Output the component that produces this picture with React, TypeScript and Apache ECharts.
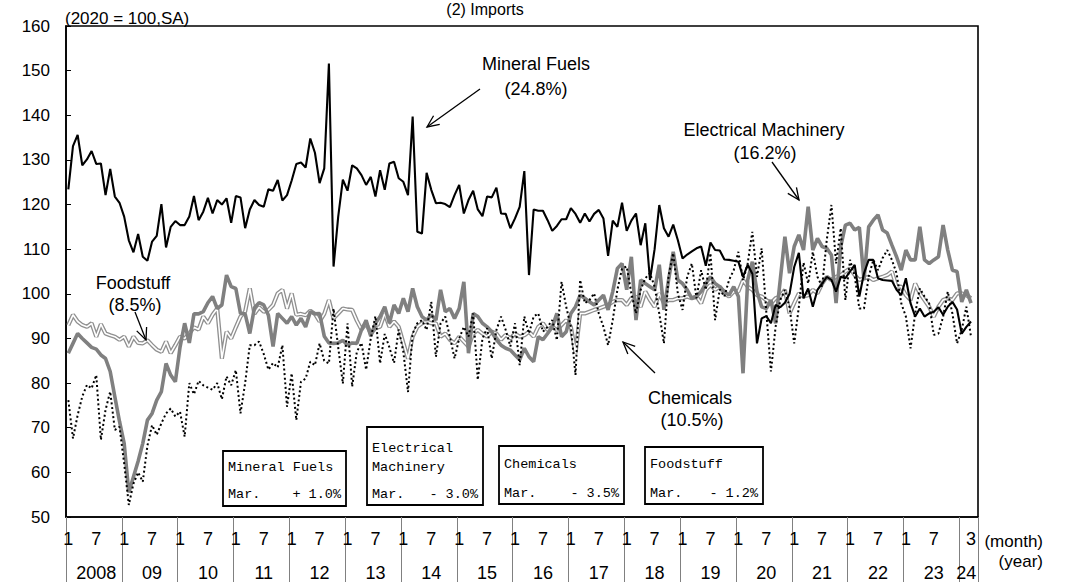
import React, { useEffect, useRef } from "react";
import * as echarts from "echarts";

const startYear = 2008;
const categoryCount = 196; // Jan 2008 .. Apr 2024 (last band empty)
const yearLabels = ["2008", "09", "10", "11", "12", "13", "14", "15", "16", "17", "18", "19", "20", "21", "22", "23", "24"];
const yTicks = { min: 50, max: 160, interval: 10 };

const mineralFuels = [
  123.4, 133.1, 135.6, 128.8, 130.1, 132.0, 129.1, 129.2, 122.1, 128.0, 121.8, 120.4,
  117.3, 112.0, 109.3, 113.4, 108.3, 107.4, 111.7, 113.0, 120.1, 110.4, 115.0, 116.3,
  115.4, 115.4, 117.3, 121.9, 116.5, 118.4, 121.5, 118.0, 121.0, 120.0, 121.4, 115.9,
  121.9, 121.6, 114.7, 118.9, 121.0, 119.9, 119.5, 123.4, 123.1, 125.5, 120.9, 122.1,
  125.4, 129.1, 129.4, 128.3, 134.8, 131.6, 124.8, 128.1, 151.6, 106.1, 117.3, 125.6,
  123.1, 128.8, 128.1, 126.6, 124.4, 126.2, 121.8, 127.7, 123.3, 129.2, 129.6, 125.9,
  125.1, 122.1, 139.7, 113.9, 113.5, 127.1, 123.3, 120.3, 120.4, 120.1, 119.4, 122.1,
  124.4, 118.0, 121.0, 123.1, 118.9, 117.4, 121.8, 121.6, 123.8, 118.0, 117.9, 114.7,
  116.9, 119.5, 127.5, 104.2, 118.9, 118.6, 118.6, 116.5, 114.1, 115.2, 116.7, 116.7,
  119.2, 117.9, 115.9, 118.0, 116.2, 117.9, 118.8, 116.9, 108.5, 116.4, 115.0, 120.4,
  114.1, 116.4, 118.0, 110.9, 115.8, 103.1, 110.0, 119.9, 114.7, 112.8, 115.5, 112.0,
  107.9, 108.8, 109.5, 110.2, 110.6, 106.3, 111.5, 109.8, 109.7, 107.7, 107.6, 107.4,
  107.2, 103.8, 106.5, 104.5, 88.9, 94.5, 95.0, 93.4, 97.5, 97.0, 98.0, 100.0,
  106.0, 109.2, 99.0, 101.2, 97.1, 100.9, 102.3, 103.8, 103.1, 100.5, 103.8, 103.5,
  105.0, 106.5, 99.4, 104.6, 107.6, 107.6, 103.5, 103.1, 103.0, 102.9, 100.9, 99.7,
  103.5, 97.9, 94.9, 96.7, 94.9, 95.6, 96.0, 97.0, 95.3, 97.1, 98.2, 96.5,
  91.1, 92.6, 93.8,
];

const electricalMachinery = [
  86.7, 88.9, 91.1, 90.0, 89.0, 88.0, 87.6, 86.3, 85.5, 82.6, 76.9, 71.4,
  66.5, 55.5, 59.0, 62.5, 66.5, 71.7, 73.2, 76.2, 78.1, 84.4, 81.8, 80.3,
  88.0, 93.4, 89.0, 95.5, 95.5, 96.0, 98.0, 99.4, 96.7, 97.5, 104.2, 101.6,
  101.2, 95.6, 95.5, 91.1, 96.9, 98.0, 97.5, 95.2, 88.2, 95.6, 94.5, 93.4,
  94.9, 93.0, 94.5, 92.6, 96.0, 95.5, 95.6, 90.5, 89.0, 88.9, 89.0, 89.6,
  88.5, 89.0, 88.9, 91.9, 94.1, 90.5, 93.4, 94.9, 97.1, 93.4, 97.5, 95.6,
  99.0, 96.0, 101.2, 97.1, 94.9, 94.1, 95.3, 94.1, 100.9, 96.0, 96.7, 94.5,
  96.7, 102.7, 86.7, 95.6, 94.9, 93.4, 92.6, 91.5, 89.7, 88.5, 87.8, 87.4,
  86.3, 85.2, 87.8, 85.9, 84.8, 90.4, 89.7, 91.1, 92.6, 95.6, 90.4, 91.5,
  95.6, 97.1, 99.7, 99.0, 98.2, 97.5, 98.6, 99.7, 96.4, 100.5, 105.7, 106.8,
  100.9, 108.3, 94.1, 103.1, 102.3, 101.6, 100.9, 106.5, 96.4, 103.1, 109.4, 103.1,
  102.3, 100.9, 99.0, 99.4, 100.5, 102.3, 103.8, 102.3, 101.6, 100.5, 99.7, 101.6,
  99.4, 82.2, 103.1, 107.2, 100.5, 97.1, 96.7, 98.6, 93.4, 103.1, 112.8, 104.6,
  110.6, 113.2, 109.8, 119.5, 109.8, 112.4, 110.6, 110.2, 108.7, 97.9, 110.6, 115.4,
  115.8, 114.3, 114.9, 103.1, 115.0, 116.5, 117.7, 114.3, 113.6, 110.9, 108.3, 105.3,
  109.8, 107.6, 107.6, 115.0, 107.6, 106.8, 107.6, 108.3, 115.4, 109.8, 105.3, 105.0,
  98.2, 100.9, 97.9,
];

const chemicals = [
  76.2, 67.6, 72.8, 77.0, 79.6, 78.8, 81.8, 67.3, 74.0, 78.1, 69.5, 70.2,
  62.0, 52.7, 57.5, 60.0, 57.9, 66.0, 70.6, 68.4, 71.0, 73.2, 74.3, 72.5,
  73.6, 68.0, 80.0, 77.5, 80.5, 79.5, 79.0, 78.5, 80.0, 76.4, 81.5, 79.5,
  82.9, 73.2, 80.0, 88.5, 88.5, 89.3, 86.5, 83.0, 84.5, 83.5, 88.5, 74.7,
  82.2, 71.7, 80.3, 81.0, 84.8, 84.0, 88.9, 85.0, 84.4, 96.7, 88.0, 79.9,
  93.4, 79.2, 87.0, 89.0, 83.0, 90.0, 95.0, 84.4, 91.0, 88.0, 84.5, 92.0,
  87.0, 78.0, 91.1, 93.4, 94.1, 91.9, 98.2, 85.9, 93.4, 94.9, 90.4, 85.5,
  90.0, 92.6, 90.4, 95.6, 80.7, 90.0, 92.3, 85.5, 91.9, 94.9, 91.9, 88.2,
  93.4, 84.0, 94.9, 91.1, 94.9, 95.6, 91.5, 92.6, 94.1, 89.6, 102.7, 97.1,
  92.6, 81.8, 103.1, 97.9, 98.6, 100.1, 95.6, 92.6, 88.5, 94.1, 100.9, 105.7,
  106.1, 100.1, 95.6, 100.9, 103.5, 104.6, 101.6, 95.6, 88.9, 104.0, 109.1, 100.0,
  96.4, 103.8, 106.8, 99.0, 105.3, 100.9, 109.1, 94.1, 101.0, 99.4, 103.1, 105.3,
  109.4, 103.0, 106.8, 113.9, 103.8, 110.2, 96.0, 82.6, 92.6, 98.6, 100.9, 97.0,
  88.9, 97.1, 107.0, 102.3, 109.4, 103.8, 101.6, 112.1, 119.9, 106.8, 114.7, 98.6,
  107.6, 104.0, 96.7, 96.7, 103.8, 107.6, 105.3, 108.0, 109.8, 107.6, 104.6, 97.9,
  94.9, 87.8, 95.6, 101.2, 99.4, 97.9, 90.8, 91.1, 94.9, 100.5, 95.6, 88.9,
  91.9, 97.1, 90.4,
];

const foodstuff = [
  93.0, 95.3, 93.8, 93.0, 92.6, 93.4, 90.4, 93.2, 91.1, 90.7, 90.4, 89.7,
  90.4, 88.2, 90.4, 89.0, 88.9, 89.6, 88.5, 87.5, 87.0, 89.3, 86.7, 88.5,
  90.4, 90.0, 91.1, 92.5, 92.0, 94.9, 93.4, 95.3, 96.7, 85.5, 91.5, 90.0,
  92.5, 94.9, 96.0, 101.2, 95.5, 97.0, 96.0, 96.4, 97.5, 100.1, 100.9, 96.7,
  100.1, 95.3, 95.5, 95.2, 96.2, 95.5, 93.8, 95.5, 98.6, 94.5, 95.6, 96.7,
  96.5, 96.4, 94.0, 92.0, 93.4, 91.1, 92.3, 92.6, 95.6, 92.6, 93.8, 92.6,
  89.0, 85.5, 90.4, 92.6, 93.4, 93.8, 93.4, 93.4, 90.4, 91.1, 89.7, 88.9,
  90.4, 89.3, 88.2, 91.1, 91.9, 91.1, 90.4, 91.5, 91.1, 89.7, 90.8, 90.0,
  91.1, 90.4, 90.7, 91.5, 90.4, 92.6, 93.4, 91.9, 92.6, 91.9, 93.0, 94.1,
  92.6, 86.7, 95.6, 95.6, 96.0, 96.4, 96.7, 97.1, 97.5, 98.2, 98.6, 98.6,
  97.5, 99.0, 99.4, 97.1, 100.5, 98.6, 97.1, 100.1, 97.9, 98.6, 98.6, 99.0,
  99.0, 99.4, 99.0, 99.4, 97.9, 100.9, 102.0, 100.9, 101.6, 100.1, 99.4, 100.5,
  100.5, 103.1, 101.6, 100.9, 99.7, 99.4, 98.6, 97.9, 99.0, 99.4, 100.9, 95.6,
  97.9, 100.1, 99.4, 99.7, 100.9, 100.1, 102.3, 103.8, 103.1, 103.8, 104.2, 105.0,
  105.7, 104.2, 103.1, 103.5, 103.8, 103.1, 103.5, 103.8, 104.2, 105.0, 101.6, 101.6,
  99.7, 98.6, 102.3, 100.1, 98.6, 97.1, 94.9, 97.1, 98.6, 99.0, 98.6, 100.1,
  100.1, 99.7, 99.0,
];

const categories: string[] = [];
for (let i = 0; i < categoryCount; i++) {
  categories.push(`${startYear + Math.floor(i / 12)}/${(i % 12) + 1}`);
}
const lastIndex = mineralFuels.length - 1;

const SANS = "'Liberation Sans', Arial, sans-serif";
const MONO = "'Liberation Mono', 'DejaVu Sans Mono', monospace";

function txt(text: string, x: number, y: number, size: number, align = "center", family = SANS) {
  return {
    type: "text",
    x,
    y,
    z: 100,
    style: {
      text,
      font: `${size}px ${family}`,
      fill: "#000",
      align,
      verticalAlign: "middle",
      textAlign: align,
      textVerticalAlign: "middle",
    },
  };
}

function arrow(x1: number, y1: number, x2: number, y2: number) {
  const a = Math.atan2(y2 - y1, x2 - x1);
  const h = 13;
  const w = 0.42;
  const p1 = [x2 - h * Math.cos(a - w), y2 - h * Math.sin(a - w)];
  const p2 = [x2 - h * Math.cos(a + w), y2 - h * Math.sin(a + w)];
  return [
    { type: "line", z: 100, shape: { x1, y1, x2, y2 }, style: { stroke: "#000", lineWidth: 1.3 } },
    { type: "polyline", z: 100, shape: { points: [p1, [x2, y2], p2] }, style: { stroke: "#000", fill: null, lineWidth: 1.3 } },
  ];
}

function box(l: number, t: number, r: number, b: number, lines: { text: string; y: number }[], marY: number, value: string) {
  const els: any[] = [
    { type: "rect", z: 99, shape: { x: l, y: t, width: r - l, height: b - t }, style: { fill: "#fff", stroke: "#000", lineWidth: 1.8 } },
  ];
  lines.forEach((ln) => els.push(txt(ln.text, l + 5, ln.y, 13.5, "left", MONO)));
  els.push(txt("Mar.", l + 5, marY, 13.5, "left", MONO));
  els.push(txt(value, r - 5, marY, 13.5, "right", MONO));
  return els;
}

export default function App() {
  const ref = useRef<HTMLDivElement>(null);

  useEffect(() => {
    document.body.style.margin = "0";
    if (!ref.current) return;
    const chart = echarts.init(ref.current, null, { renderer: "svg" });

    const graphics: any[] = [
      txt("(2) Imports", 485, 9, 16),
      txt("(2020 = 100,SA)", 65, 18, 17, "left"),
      txt("Mineral Fuels", 536, 64, 18),
      txt("(24.8%)", 536, 89, 18),
      txt("Electrical Machinery", 764, 130, 18),
      txt("(16.2%)", 765, 153, 18),
      txt("Foodstuff", 133, 283, 18),
      txt("(8.5%)", 135, 305, 18),
      txt("Chemicals", 690, 398, 18),
      txt("(10.5%)", 692, 420, 18),
      txt("(month)", 1043, 541, 17, "right"),
      txt("(year)", 1043, 561, 17, "right"),
      ...arrow(480, 89, 427, 127),
      ...arrow(772, 162, 799, 200),
      ...arrow(135, 312, 146, 340),
      ...arrow(655, 373, 623, 342),
      ...box(223, 451, 346, 506, [{ text: "Mineral Fuels", y: 467 }], 494, "+ 1.0%"),
      ...box(367, 427, 483, 505, [{ text: "Electrical", y: 448 }, { text: "Machinery", y: 467 }], 494, "- 3.0%"),
      ...box(499, 446, 624, 504, [{ text: "Chemicals", y: 464 }], 493, "- 3.5%"),
      ...box(645, 447, 763, 504, [{ text: "Foodstuff", y: 464 }], 493, "- 1.2%"),
    ];

    chart.setOption({
      animation: false,
      backgroundColor: "#fff",
      grid: {
        left: 66,
        right: 89,
        top: 26,
        bottom: 65,
        show: true,
        borderColor: "#000",
        borderWidth: 1.6,
        backgroundColor: "transparent",
      },
      xAxis: [
        {
          type: "category",
          data: categories,
          boundaryGap: true,
          position: "bottom",
          axisLine: { show: true, lineStyle: { color: "#000", width: 1.6 } },
          axisTick: {
            show: true,
            interval: (idx: number) => idx % 12 === 0,
            length: 65,
            lineStyle: { color: "#808080", width: 1 },
          },
          axisLabel: {
            interval: (idx: number) => (idx < 192 && (idx % 12 === 0 || idx % 12 === 6)) || idx === lastIndex,
            formatter: (v: string) => v.split("/")[1],
            fontSize: 18,
            fontFamily: SANS,
            color: "#000",
            margin: 13,
          },
          splitLine: { show: false },
        },
        {
          type: "category",
          data: categories,
          boundaryGap: true,
          position: "bottom",
          axisLine: { show: false },
          axisTick: { show: false },
          axisLabel: {
            interval: (idx: number) => idx % 12 === 6 || idx === 193,
            formatter: (v: string) => yearLabels[parseInt(v.split("/")[0], 10) - startYear],
            fontSize: 18,
            fontFamily: SANS,
            color: "#000",
            margin: 47,
          },
          splitLine: { show: false },
        },
      ],
      yAxis: {
        type: "value",
        min: yTicks.min,
        max: yTicks.max,
        interval: yTicks.interval,
        axisLine: { show: true, lineStyle: { color: "#000", width: 1.6 } },
        axisTick: { show: true, inside: true, length: 5, lineStyle: { color: "#000" } },
        axisLabel: { fontSize: 17, fontFamily: SANS, color: "#000", margin: 16 },
        splitLine: { show: false },
      },
      series: [
        {
          name: "Foodstuff",
          type: "line",
          data: foodstuff,
          symbol: "none",
          silent: true,
          lineStyle: { color: "#8f8f8f", width: 4.2 },
          z: 2,
        },
        {
          name: "Foodstuff inner",
          type: "line",
          data: foodstuff,
          symbol: "none",
          silent: true,
          lineStyle: { color: "#ffffff", width: 1.6 },
          z: 3,
        },
        {
          name: "Electrical Machinery",
          type: "line",
          data: electricalMachinery,
          symbol: "none",
          silent: true,
          lineStyle: { color: "#808080", width: 3.6 },
          z: 4,
        },
        {
          name: "Chemicals",
          type: "line",
          data: chemicals,
          symbol: "none",
          silent: true,
          lineStyle: { color: "#000", width: 2, type: [2, 2.6], cap: "butt" },
          z: 5,
        },
        {
          name: "Mineral Fuels",
          type: "line",
          data: mineralFuels,
          symbol: "none",
          silent: true,
          lineStyle: { color: "#000", width: 2.1 },
          z: 6,
        },
      ],
      graphic: { elements: graphics },
    });

    return () => chart.dispose();
  }, []);

  return <div ref={ref} style={{ width: 1067, height: 582 }} />;
}
